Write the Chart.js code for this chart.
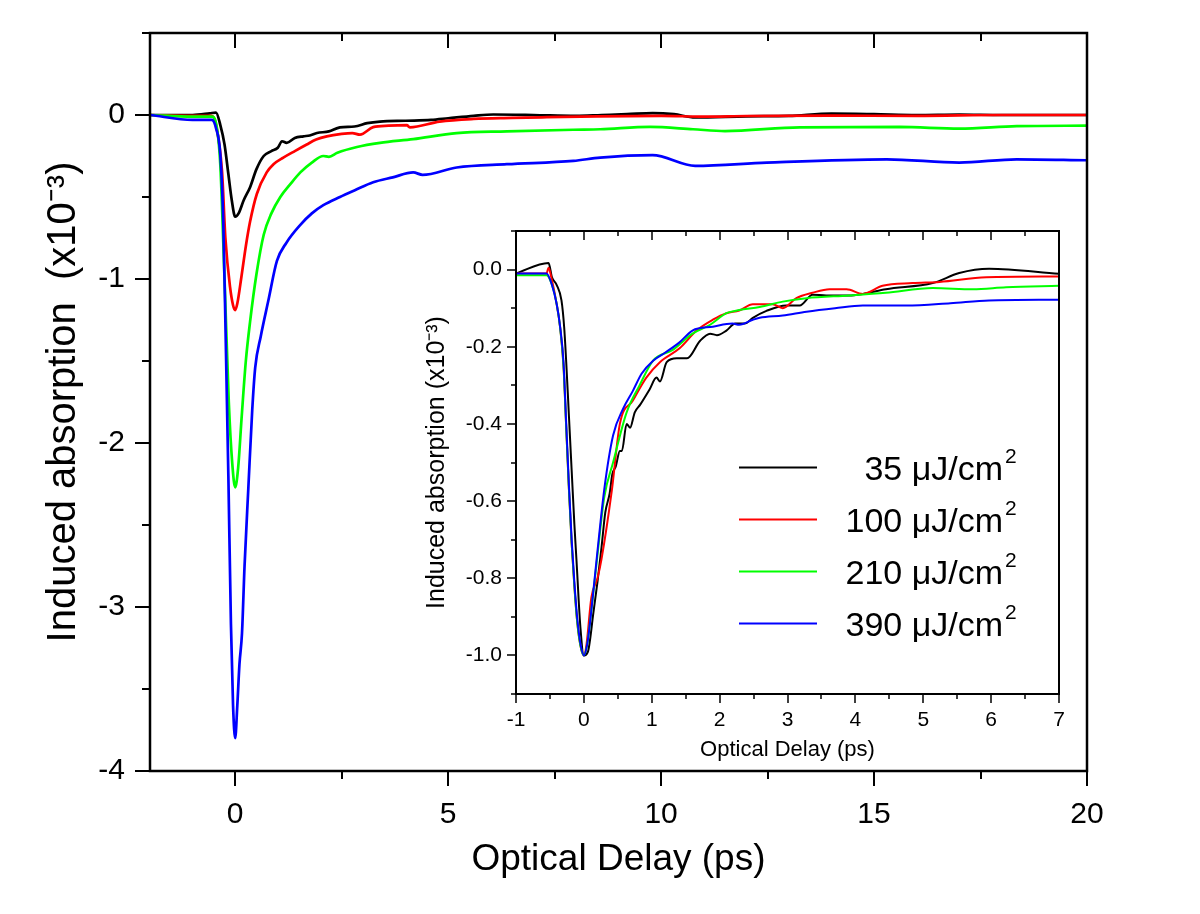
<!DOCTYPE html>
<html>
<head>
<meta charset="utf-8">
<title>Induced absorption vs optical delay</title>
<script src="https://cdn.jsdelivr.net/npm/chart.js@4.4.1/dist/chart.umd.min.js"></script>
<style>
  html, body { margin: 0; padding: 0; background: #fff; }
  #wrap { position: relative; width: 1200px; height: 914px; }
  #mainChart { position: absolute; left: 0; top: 0; }
  #insetChart { position: absolute; left: 420px; top: 222px; background: #fff; }
</style>
</head>
<body>
<div id="wrap">
  <canvas id="mainChart" width="1200" height="914"></canvas>
  <canvas id="insetChart" width="660" height="545"></canvas>
</div>
<script>
// Pump fluences (uJ/cm2) and their colours
const fluences = ['35', '100', '210', '390'];
const colors = ['#000000', '#ff0000', '#00ff00', '#0000ff'];

// Main panel: delay (ps) and induced absorption (x10^-3)
const main35Delay = [-2, -1, -0.6, -0.45, -0.35, -0.25, -0.16, -0.08, 0, 0.08, 0.2, 0.35, 0.5, 0.67, 0.85, 1.0, 1.1, 1.21, 1.4, 1.6, 1.75, 1.92, 2.2, 2.46, 2.8, 3.1, 3.4, 4.0, 4.6, 5.0, 5.6, 6.06, 7, 8, 8.6, 9.2, 9.8, 10.3, 10.8, 12, 13, 14, 15, 16, 17, 18, 19, 20];
const main35Signal = [0, 0, 0.01, 0.015, -0.06, -0.18, -0.36, -0.52, -0.62, -0.6, -0.52, -0.44, -0.33, -0.25, -0.22, -0.2, -0.16, -0.17, -0.14, -0.13, -0.125, -0.11, -0.1, -0.075, -0.07, -0.05, -0.04, -0.035, -0.03, -0.02, -0.005, 0.003, 0.0, -0.005, 0.0, 0.005, 0.012, 0.005, -0.015, -0.008, -0.005, 0.008, 0.005, 0.0, 0.003, 0.0, 0.0, 0.0];

const main100Delay = [-2, -1, -0.55, -0.45, -0.31, -0.23, -0.12, -0.05, 0, 0.05, 0.15, 0.25, 0.35, 0.51, 0.74, 0.9, 1.13, 1.4, 1.68, 1.9, 2.15, 2.5, 2.75, 2.93, 3.24, 3.6, 4.03, 4.1, 4.8, 5.6, 6.5, 7.2, 8.5, 10, 11, 12, 14, 16, 18, 20];
const main100Signal = [0, -0.005, -0.005, -0.06, -0.34, -0.75, -1.05, -1.16, -1.19, -1.15, -0.98, -0.8, -0.65, -0.48, -0.35, -0.3, -0.26, -0.22, -0.18, -0.15, -0.13, -0.115, -0.11, -0.12, -0.074, -0.065, -0.062, -0.075, -0.04, -0.024, -0.018, -0.014, -0.008, -0.005, -0.01, -0.006, -0.004, -0.005, 0.0, 0.0];

const main210Delay = [-2, -1, -0.55, -0.45, -0.35, -0.25, -0.15, -0.07, 0, 0.07, 0.15, 0.25, 0.35, 0.5, 0.67, 0.85, 1.06, 1.3, 1.53, 1.8, 2.07, 2.2, 2.4, 2.86, 3.4, 4.18, 5.2, 6.38, 7.94, 8.57, 9.74, 10.75, 11.5, 13.26, 15.6, 17.0, 18.35, 20];
const main210Signal = [0, -0.01, -0.01, -0.05, -0.3, -1.0, -1.75, -2.12, -2.27, -2.15, -1.85, -1.5, -1.26, -0.97, -0.73, -0.6, -0.5, -0.42, -0.35, -0.29, -0.25, -0.255, -0.23, -0.195, -0.17, -0.147, -0.11, -0.1, -0.09, -0.087, -0.073, -0.087, -0.098, -0.075, -0.073, -0.083, -0.068, -0.065];

const main390Delay = [-2, -1, -0.55, -0.45, -0.35, -0.28, -0.23, -0.16, -0.1, -0.05, 0, 0.05, 0.1, 0.16, 0.22, 0.31, 0.4, 0.47, 0.6, 0.78, 0.98, 1.2, 1.53, 1.8, 2.07, 2.46, 2.8, 3.24, 3.7, 4.18, 4.4, 5.2, 6.38, 7.94, 8.57, 9.8, 10.8, 12.48, 15.3, 17.0, 18.35, 20];
const main390Signal = [0, -0.03, -0.03, -0.08, -0.24, -0.65, -1.26, -2.2, -3.1, -3.6, -3.8, -3.6, -3.35, -3.16, -2.75, -2.27, -1.8, -1.54, -1.35, -1.13, -0.89, -0.78, -0.67, -0.6, -0.55, -0.5, -0.46, -0.41, -0.38, -0.35, -0.365, -0.32, -0.3, -0.28, -0.26, -0.245, -0.31, -0.29, -0.27, -0.29, -0.27, -0.276];

// Inset: normalised traces, delay -1..7 ps
const inset35Delay = [-1, -0.52, -0.47, -0.4, -0.33, -0.29, -0.26, -0.22, -0.18, -0.14, -0.11, -0.05, 0, 0.06, 0.14, 0.2, 0.26, 0.315, 0.38, 0.42, 0.47, 0.53, 0.56, 0.63, 0.68, 0.75, 0.83, 0.97, 1.07, 1.12, 1.22, 1.37, 1.52, 1.71, 1.86, 1.96, 2.1, 2.23, 2.37, 2.49, 2.69, 2.98, 3.18, 3.37, 3.57, 3.91, 4.11, 4.45, 5.14, 5.53, 5.97, 7.0];
const inset35Signal = [-0.01, 0.017, -0.02, -0.04, -0.08, -0.15, -0.24, -0.38, -0.52, -0.66, -0.75, -0.93, -1.0, -0.99, -0.89, -0.81, -0.72, -0.63, -0.58, -0.53, -0.51, -0.47, -0.47, -0.4, -0.41, -0.37, -0.35, -0.31, -0.28, -0.29, -0.24, -0.23, -0.23, -0.185, -0.166, -0.17, -0.158, -0.14, -0.14, -0.125, -0.107, -0.093, -0.093, -0.065, -0.067, -0.067, -0.063, -0.051, -0.035, -0.009, 0.002, -0.011];

const inset100Delay = [-1, -0.55, -0.52, -0.48, -0.4, -0.35, -0.3, -0.26, -0.22, -0.18, -0.14, -0.1, -0.05, 0, 0.04, 0.11, 0.2, 0.26, 0.41, 0.53, 0.72, 0.92, 1.12, 1.41, 1.66, 1.9, 2.1, 2.29, 2.49, 2.78, 2.93, 3.13, 3.37, 3.62, 3.87, 4.11, 4.4, 4.84, 5.24, 5.93, 7.0];
const inset100Signal = [-0.01, -0.01, 0.005, -0.02, -0.09, -0.15, -0.25, -0.41, -0.57, -0.71, -0.82, -0.91, -0.975, -1.0, -0.97, -0.85, -0.8, -0.75, -0.575, -0.4, -0.34, -0.28, -0.24, -0.204, -0.158, -0.13, -0.113, -0.106, -0.09, -0.09, -0.1, -0.074, -0.06, -0.051, -0.051, -0.063, -0.042, -0.035, -0.032, -0.02, -0.018];

const inset210Delay = [-1, -0.55, -0.47, -0.4, -0.35, -0.3, -0.26, -0.22, -0.18, -0.14, -0.1, -0.05, 0, 0.05, 0.1, 0.2, 0.3, 0.43, 0.63, 0.82, 1.02, 1.31, 1.6, 1.86, 2.1, 2.29, 2.59, 2.93, 3.28, 3.91, 4.45, 5.14, 5.73, 6.22, 7.0];
const inset210Signal = [-0.015, -0.015, -0.04, -0.09, -0.15, -0.25, -0.41, -0.57, -0.71, -0.82, -0.91, -0.975, -1.0, -0.97, -0.9, -0.74, -0.59, -0.5, -0.37, -0.3, -0.236, -0.208, -0.166, -0.143, -0.113, -0.105, -0.097, -0.083, -0.074, -0.067, -0.06, -0.048, -0.051, -0.046, -0.042];

const inset390Delay = [-1, -0.55, -0.47, -0.4, -0.35, -0.3, -0.26, -0.22, -0.18, -0.14, -0.1, -0.05, 0, 0.05, 0.1, 0.2, 0.3, 0.43, 0.58, 0.72, 0.85, 1.02, 1.2, 1.4, 1.6, 1.9, 2.19, 2.29, 2.49, 2.59, 2.93, 3.28, 3.7, 4.11, 4.75, 5.4, 5.97, 7.0];
const inset390Signal = [-0.01, -0.01, -0.04, -0.09, -0.148, -0.24, -0.4, -0.56, -0.7, -0.81, -0.9, -0.97, -1.0, -0.97, -0.9, -0.73, -0.57, -0.43, -0.36, -0.315, -0.27, -0.236, -0.215, -0.19, -0.158, -0.148, -0.14, -0.143, -0.13, -0.125, -0.119, -0.109, -0.1, -0.093, -0.093, -0.087, -0.08, -0.078];

// Tick labels (ascending)
const mainXTicks = [0, 5, 10, 15, 20];
const mainYTicks = [-4, -3, -2, -1, 0];
const insetXTicks = [-1, 0, 1, 2, 3, 4, 5, 6, 7];
const insetYTicks = [-1.0, -0.8, -0.6, -0.4, -0.2, 0];

const mainDelays = [main35Delay, main100Delay, main210Delay, main390Delay];
const mainSignals = [main35Signal, main100Signal, main210Signal, main390Signal];
const insetDelays = [inset35Delay, inset100Delay, inset210Delay, inset390Delay];
const insetSignals = [inset35Signal, inset100Signal, inset210Signal, inset390Signal];

const FONT = '"Liberation Sans", Arial, sans-serif';

// Zip two arrays into {x, y} points
const toPoints = (xs, ys) => xs.map((x, i) => ({ x, y: ys[i] }));

// Build the four datasets (blue ends up on top)
const buildDatasets = (delays, signals, width) =>
  fluences.map((f, i) => ({
    label: `${f} \u03BCJ/cm`,
    data: toPoints(delays[i], signals[i]),
    borderColor: colors[i],
    borderWidth: width,
    pointRadius: 0,
    fill: false,
    cubicInterpolationMode: 'monotone',
    order: fluences.length - 1 - i,
  }));

// Values between min and max on a half-step grid
const tickGrid = (min, max, half) => {
  const out = [];
  const start = Math.ceil(min / half - 1e-6);
  const end = Math.floor(max / half + 1e-6);
  for (let k = start; k <= end; k++) {
    out.push({ v: k * half, major: k % 2 === 0 });
  }
  return out;
};

// Frame box plus Origin-style ticks (out on left/bottom, in on top)
const frameTicks = {
  id: 'frameTicks',
  afterDraw(chart, args, opts) {
    const { ctx, chartArea, scales } = chart;
    const { left, right, top, bottom } = chartArea;
    ctx.save();
    ctx.strokeStyle = '#000';
    ctx.lineWidth = opts.lineWidth;
    ctx.lineCap = 'square';
    ctx.strokeRect(left, top, right - left, bottom - top);

    ctx.lineWidth = opts.tickWidth;
    ctx.lineCap = 'butt';
    ctx.beginPath();
    tickGrid(scales.x.min, scales.x.max, opts.xStep / 2).forEach(({ v, major }) => {
      const px = Math.round(scales.x.getPixelForValue(v));
      const len = major ? opts.major : opts.minor;
      ctx.moveTo(px, bottom);
      ctx.lineTo(px, bottom + len);
      ctx.moveTo(px, top);
      ctx.lineTo(px, top + len);
    });
    tickGrid(scales.y.min, scales.y.max, opts.yStep / 2).forEach(({ v, major }) => {
      const py = Math.round(scales.y.getPixelForValue(v));
      const len = major ? opts.major : opts.minor;
      ctx.moveTo(left, py);
      ctx.lineTo(left - len, py);
    });
    ctx.stroke();
    ctx.restore();
  },
};

// Legend with superscript "2"
const fluenceLegend = {
  id: 'fluenceLegend',
  afterDraw(chart, args, opts) {
    if (!opts.show) return;
    const { ctx } = chart;
    ctx.save();
    chart.data.datasets.forEach((ds, i) => {
      const y = opts.top + i * opts.rowGap;
      ctx.strokeStyle = ds.borderColor;
      ctx.lineWidth = ds.borderWidth;
      ctx.beginPath();
      ctx.moveTo(opts.lineStart, y);
      ctx.lineTo(opts.lineEnd, y);
      ctx.stroke();

      ctx.fillStyle = '#000';
      ctx.textBaseline = 'alphabetic';
      ctx.textAlign = 'right';
      ctx.font = `${opts.size}px ${FONT}`;
      ctx.fillText(ds.label, opts.textRight, y + opts.size * 0.36);
      ctx.textAlign = 'left';
      ctx.font = `${opts.supSize}px ${FONT}`;
      ctx.fillText('2', opts.textRight + 2, y - 5);
    });
    ctx.restore();
  },
};

// Generate Chart
const generateChart = (canvas, cfg) =>
  new Chart(canvas, {
    type: 'line',
    data: { datasets: buildDatasets(cfg.delays, cfg.signals, cfg.lineWidth) },
    options: {
      responsive: false,
      animation: false,
      devicePixelRatio: 1,
      layout: { padding: cfg.padding },
      plugins: {
        legend: { display: false },
        tooltip: { enabled: false },
        frameTicks: cfg.frame,
        fluenceLegend: cfg.legend,
      },
      scales: {
        x: {
          type: 'linear',
          min: cfg.xMin,
          max: cfg.xMax,
          grid: { display: false, drawTicks: false },
          border: { display: false },
          afterBuildTicks: (s) => { s.ticks = cfg.xTicks.map((v) => ({ value: v })); },
          afterFit: (s) => {
            s.height = cfg.xHeight;
            s.paddingLeft = 0;
            s.paddingRight = 0;
          },
          ticks: {
            font: { family: FONT, size: cfg.tickSize },
            color: '#000',
            padding: cfg.xTickPad,
            maxRotation: 0,
          },
          title: {
            display: true,
            text: 'Optical Delay (ps)',
            font: { family: FONT, size: cfg.xTitleSize },
            color: '#000',
            padding: { top: 0, bottom: cfg.xTitlePad },
          },
        },
        y: {
          type: 'linear',
          min: cfg.yMin,
          max: cfg.yMax,
          grid: { display: false, drawTicks: false },
          border: { display: false },
          afterBuildTicks: (s) => { s.ticks = cfg.yTicks.map((v) => ({ value: v })); },
          afterFit: (s) => {
            s.width = cfg.yWidth;
            s.paddingTop = 0;
            s.paddingBottom = 0;
          },
          ticks: {
            font: { family: FONT, size: cfg.tickSize },
            color: '#000',
            padding: cfg.yTickPad,
            callback: cfg.yFormat,
          },
          title: {
            display: true,
            text: cfg.yTitle,
            font: { family: FONT, size: cfg.yTitleSize },
            color: '#000',
            padding: { top: cfg.yTitlePad, bottom: 0 },
          },
        },
      },
    },
    plugins: [frameTicks, fluenceLegend],
  });

// Main panel
generateChart(document.getElementById('mainChart'), {
  delays: mainDelays,
  signals: mainSignals,
  lineWidth: 2.7,
  padding: { top: 33, right: 113, left: 0, bottom: 0 },
  xMin: -2, xMax: 20, yMin: -4, yMax: 0.5,
  xTicks: mainXTicks, yTicks: mainYTicks,
  xHeight: 143, yWidth: 150,
  tickSize: 30, xTitleSize: 37, yTitleSize: 40,
  xTickPad: 26, yTickPad: 25,
  xTitlePad: 32, yTitlePad: 40,
  yTitle: 'Induced absorption  (x10\u207B\u00B3)',
  yFormat: (v) => String(v),
  frame: { lineWidth: 2.5, tickWidth: 2, major: 15, minor: 8, xStep: 5, yStep: 1 },
  legend: { show: false },
});

// Inset panel
generateChart(document.getElementById('insetChart'), {
  delays: insetDelays,
  signals: insetSignals,
  lineWidth: 2,
  padding: { top: 9, right: 21, left: 0, bottom: 0 },
  xMin: -1, xMax: 7, yMin: -1.1, yMax: 0.1,
  xTicks: insetXTicks, yTicks: insetYTicks,
  xHeight: 73, yWidth: 96,
  tickSize: 21, xTitleSize: 22, yTitleSize: 25,
  xTickPad: 14, yTickPad: 14,
  xTitlePad: 4, yTitlePad: 2,
  yTitle: 'Induced absorption (x10\u207B\u00B3)',
  yFormat: (v) => v.toFixed(1),
  frame: { lineWidth: 2, tickWidth: 1.5, major: 9, minor: 5, xStep: 1, yStep: 0.2 },
  legend: {
    show: true,
    top: 245.5, rowGap: 52, lineStart: 319, lineEnd: 397,
    textRight: 583, size: 34, supSize: 21,
  },
});
</script>
</body>
</html>
